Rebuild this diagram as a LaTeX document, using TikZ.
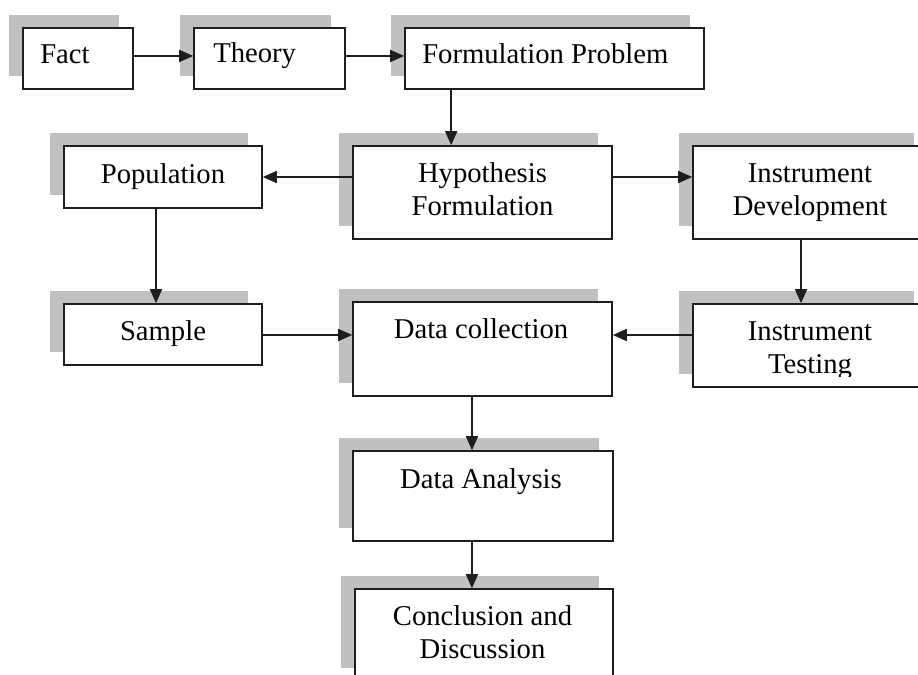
\documentclass[tikz,border=0pt]{standalone}
\usepackage{fontspec}
\setmainfont{Liberation Serif}
\usetikzlibrary{shadows,fit,arrows.meta}
\definecolor{shadegray}{RGB}{192,192,192}
\definecolor{linegray}{RGB}{30,30,30}
\tikzset{
  box/.style={draw=linegray, line width=1.2pt, fill=white, inner sep=0pt,
    general shadow={fill=shadegray, shadow xshift=-10.5pt, shadow yshift=9.75pt}},
  txt/.style={font=\fontsize{21.5}{24.5}\selectfont, inner sep=0pt, align=center, anchor=base},
  arr/.style={line width=1.25pt, draw=linegray, -{Triangle[length=10.5pt, width=9pt]}}
}
\begin{document}
\begin{tikzpicture}[x=0.75pt, y=-0.75pt]
\useasboundingbox (0,0) rectangle (918,675);
\clip (0,0) rectangle (918,675);
% boxes
\node[box, fit={(23,28) (133,89)}] (fact) {};
\node[box, fit={(194,28) (345,89)}] (theory) {};
\node[box, fit={(405,28) (704,89)}] (formP) {};
\node[box, fit={(64,146) (262,208)}] (pop) {};
\node[box, fit={(353,146) (612,239)}] (hyp) {};
\node[box, fit={(693,146) (928,239)}] (instD) {};
\node[box, fit={(64,304) (262,365)}] (sample) {};
\node[box, fit={(353,302) (612,396)}] (datac) {};
\node[box, fit={(693,304) (928,387)}] (instT) {};
\node[box, fit={(353,451) (613,541)}] (dataA) {};
\node[box, fit={(355,589) (613,681)}] (concl) {};
% texts (multi-line nodes: base = last line's baseline)
\node[txt, anchor=base west] (factT) at (40,63) {Fact};
\node[txt, anchor=base west] (theoryT) at (213,62) {Theory};
\node[txt, anchor=base west] (formPT) at (422,63) {Formulation Problem};
\node[txt] (popT) at (163,183) {Population};
\node[txt] (hypT) at (482.5,215.5) {Hypothesis\\Formulation};
\node[txt] (instDT) at (810,215.5) {Instrument\\Development};
\node[txt] (sampleT) at (163,340) {Sample};
\node[txt] (datacT) at (481,338) {Data collection};
\begin{scope}
\clip (600,290) rectangle (918,376);
\node[txt] (instTT) at (810,373.5) {Instrument\\Testing};
\end{scope}
\node[txt] (dataAT) at (481,488) {Data Analysis};
\node[txt] (conclT) at (482.5,658.5) {Conclusion and\\Discussion};
% connectors
\draw[arr] ([yshift=1.9pt]fact.east) -- ([yshift=1.9pt]theory.west);
\draw[arr] ([yshift=1.9pt]theory.east) -- ([yshift=1.9pt]formP.west);
\coordinate (fx) at ([xshift=35.25pt]formP.south west);
\draw[arr] (fx) -- (fx |- hyp.north);
\draw[arr] (hyp.west |- pop.east) -- (pop.east);
\draw[arr] (hyp.east |- pop.east) -- (instD.west |- pop.east);
\draw[arr] ([xshift=-5.25pt]pop.south) -- ([xshift=-5.25pt]sample.north);
\coordinate (sy) at ([yshift=-0.375pt]sample.east);
\draw[arr] (sy) -- (datac.west |- sy);
\draw[arr] ([xshift=-7.1pt]instD.south) -- ([xshift=-7.1pt]instT.north);
\draw[arr] (instT.west |- sy) -- (datac.east |- sy);
\coordinate (dx) at ([xshift=-7.9pt]datac.south);
\draw[arr] (dx) -- (dx |- dataA.north);
\draw[arr] (dataA.south -| dx) -- (dx |- concl.north);
\end{tikzpicture}
\end{document}
